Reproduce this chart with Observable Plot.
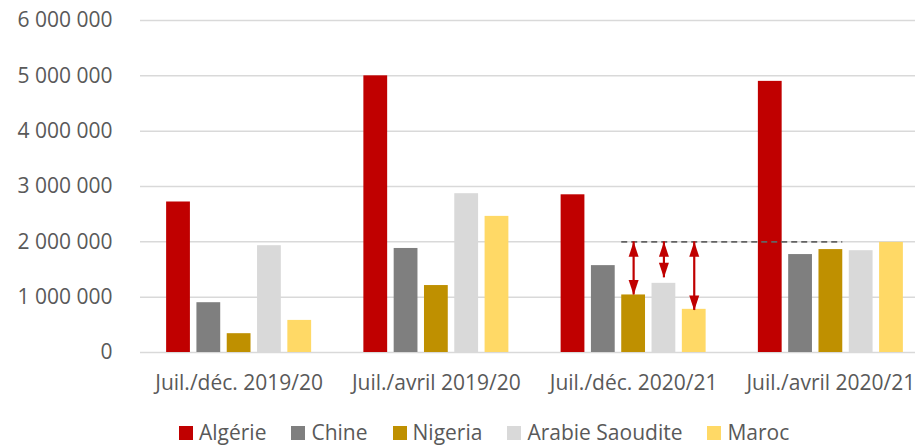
<!DOCTYPE html>
<html>
<head>
<meta charset="utf-8">
<script src="https://cdn.jsdelivr.net/npm/d3@7"></script>
<script src="https://cdn.jsdelivr.net/npm/@observablehq/plot@0.6"></script>
<style>
  html, body { margin: 0; padding: 0; background: white; overflow: hidden; width: 915px; height: 446px; }
  #legend { display: flex; padding-left: 179px; margin-top: 17px; font-family: "Open Sans", sans-serif; font-size: 21px; color: #595959; line-height: 20px; white-space: nowrap; }
  #legend .item { display: flex; align-items: center; margin-right: 25px; }
  #legend .sw { width: 14px; height: 14px; margin-right: 6px; margin-top: 1px; }
</style>
</head>
<body>
<div id="chart"></div>
<div id="legend"></div>
<script>
// ---- data ----
const groups = ["Juil./déc. 2019/20", "Juil./avril 2019/20", "Juil./déc. 2020/21", "Juil./avril 2020/21"];
const series = ["Algérie", "Chine", "Nigeria", "Arabie Saoudite", "Maroc"];
const algerie = [2720000, 5000000, 2850000, 4900000];
const chine   = [900000, 1880000, 1570000, 1770000];
const nigeria = [340000, 1210000, 1040000, 1860000];
const arabie  = [1930000, 2870000, 1250000, 1840000];
const maroc   = [580000, 2460000, 780000, 1990000];
const yTicks = [0, 1000000, 2000000, 3000000, 4000000, 5000000, 6000000];
// annotation: reference level and arrows (group 3)
const refLevel = 2000000;
const refFromGroup = "Juil./déc. 2020/21";
const refToGroup = "Juil./avril 2020/21";
const refSeries = "Nigeria";
const arrowGroup = "Juil./déc. 2020/21";
const arrowSeries = ["Nigeria", "Arabie Saoudite", "Maroc"];
const arrowBottom = [1040000, 1350000, 760000];

const colors = ["#C00000", "#7F7F7F", "#BF9000", "#D9D9D9", "#FFD966"];

// ---- build table ----
const valuesBySeries = [algerie, chine, nigeria, arabie, maroc];
const inner = d3.scaleBand(series, [0, 1]).paddingInner(0.215).paddingOuter(0.862);
const bw = inner.bandwidth();
const gi = g => groups.indexOf(g);
const table = [];
groups.forEach((g, i) => series.forEach((s, j) => {
  table.push({group: g, series: s, value: valuesBySeries[j][i], x1: i + inner(s), x2: i + inner(s) + bw});
}));
const arrows = arrowSeries.map((s, k) => ({
  x: gi(arrowGroup) + inner(s) + bw / 2, top: refLevel, bottom: arrowBottom[k]
}));
const refLine = [{
  x1: gi(refFromGroup) + inner(refSeries),
  x2: gi(refToGroup) + inner(refSeries) + bw,
  y: refLevel
}];

const headUp = {draw(ctx) { ctx.moveTo(0, 0); ctx.lineTo(5, 15); ctx.lineTo(-5, 15); ctx.closePath(); }};
const headDown = {draw(ctx) { ctx.moveTo(0, 0); ctx.lineTo(5, -15); ctx.lineTo(-5, -15); ctx.closePath(); }};

const fmt = d => d3.format(",")(d).replace(/,/g, " ");

const plot = Plot.plot({
  width: 915,
  height: 405,
  marginTop: 20,
  marginBottom: 53,
  marginLeft: 140,
  marginRight: 0,
  style: {fontFamily: "'Open Sans', sans-serif", fontSize: "21px", color: "#595959", background: "white"},
  x: {domain: [0, groups.length], range: [140, 929], ticks: groups.map((g, i) => i + 0.5),
      tickFormat: d => groups[Math.floor(d)], tickSize: 0, tickPadding: 23, label: null},
  y: {domain: [0, 6000000], ticks: yTicks, tickFormat: fmt, tickSize: 0, tickPadding: 28, label: null},
  color: {domain: series, range: colors},
  marks: [
    Plot.ruleY(yTicks, {stroke: "#D9D9D9", strokeWidth: 1.5}),
    Plot.rectY(table, {x1: "x1", x2: "x2", y: "value", fill: "series"}),
    Plot.ruleY(refLine, {x1: "x1", x2: "x2", y: "y", stroke: "#636363", strokeWidth: 1.8, strokeDasharray: "6,4"}),
    Plot.ruleX(arrows, {x: "x", y1: "top", y2: "bottom", stroke: "#C00000", strokeWidth: 2.2}),
    Plot.dot(arrows, {x: "x", y: "top", symbol: headUp, fill: "#C00000", stroke: "none"}),
    Plot.dot(arrows, {x: "x", y: "bottom", symbol: headDown, fill: "#C00000", stroke: "none"})
  ]
});
document.getElementById("chart").appendChild(plot);

const legend = document.getElementById("legend");
series.forEach((s, j) => {
  const item = document.createElement("div");
  item.className = "item";
  const sw = document.createElement("span");
  sw.className = "sw";
  sw.style.background = colors[j];
  const t = document.createElement("span");
  t.textContent = s;
  item.appendChild(sw);
  item.appendChild(t);
  legend.appendChild(item);
});
</script>
</body>
</html>
